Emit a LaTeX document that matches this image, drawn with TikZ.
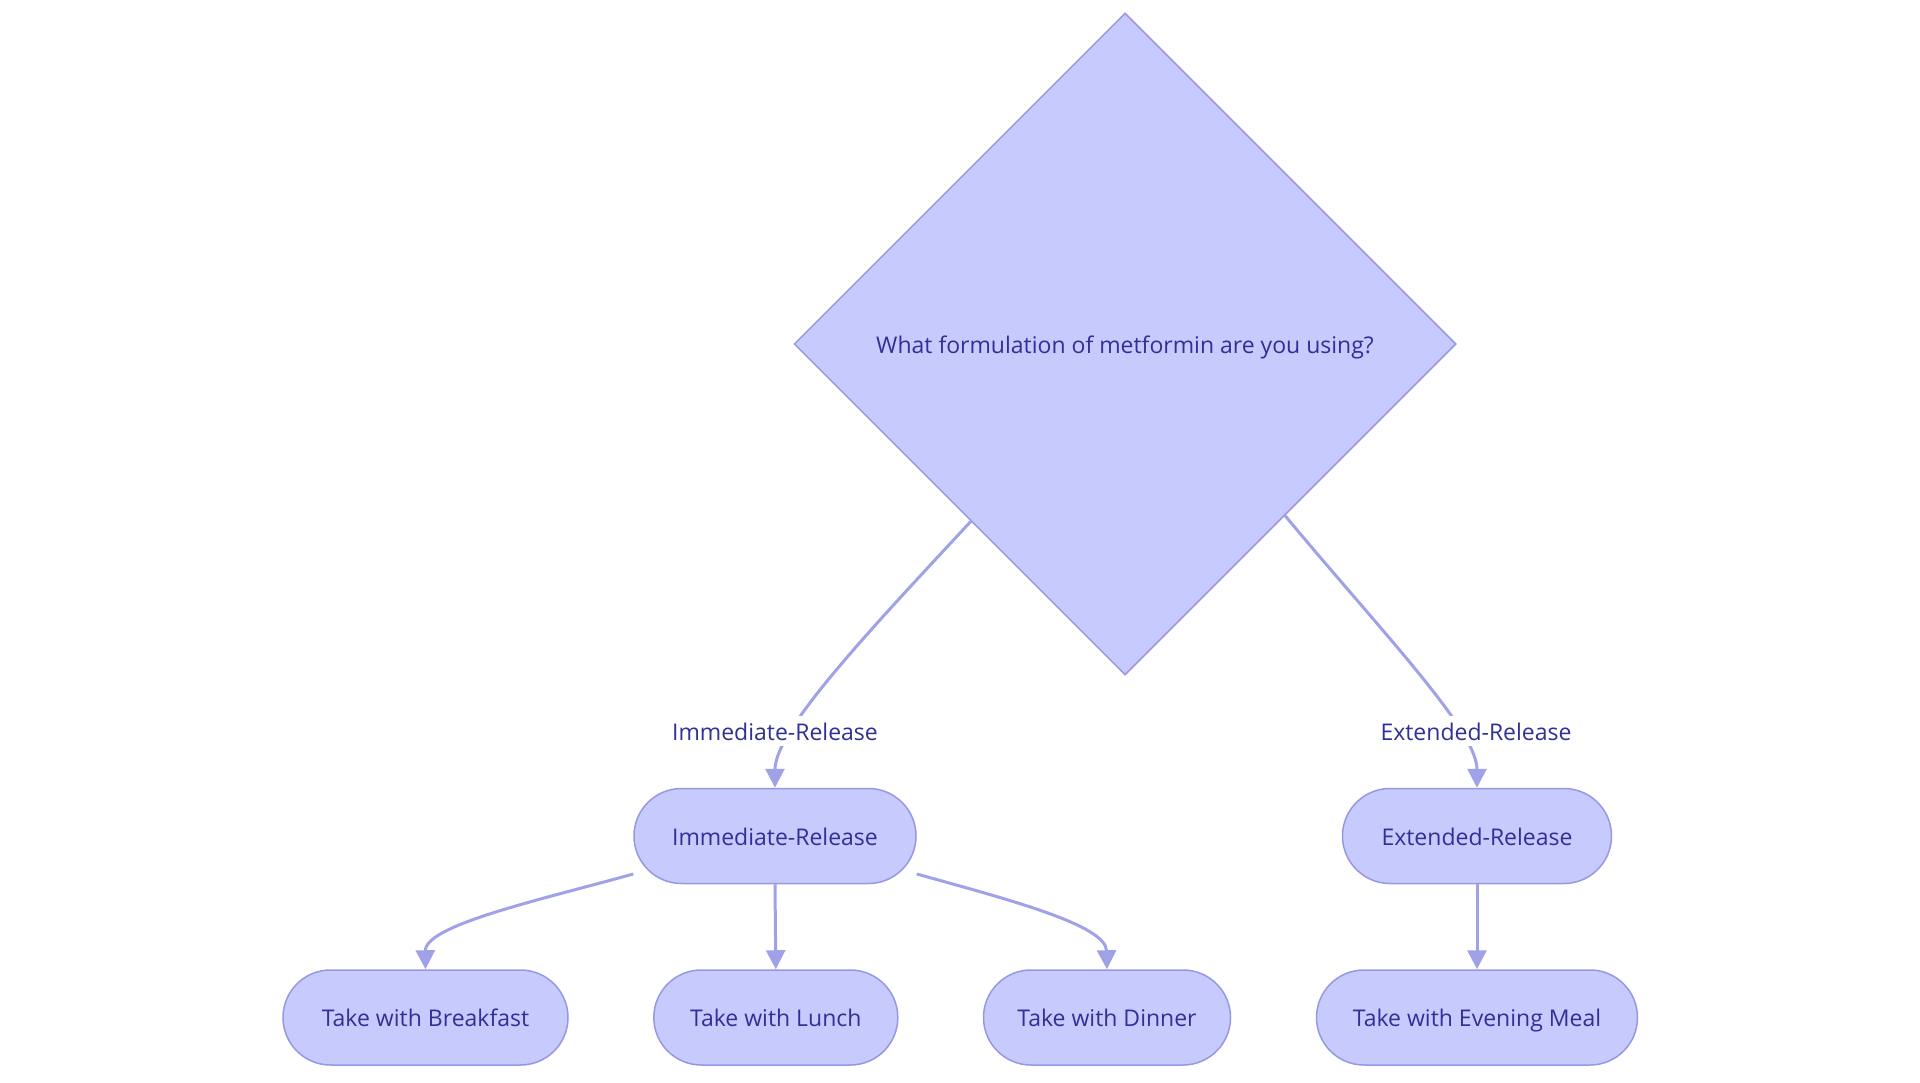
\documentclass[tikz,border=0pt]{standalone}
\usepackage{fontspec}
\setmainfont{Open Sans}
\usetikzlibrary{shapes.geometric,arrows.meta}
\definecolor{nfill}{RGB}{199,202,253}
\definecolor{nstroke}{RGB}{150,152,226}
\definecolor{ntext}{RGB}{48,48,150}
\definecolor{eline}{RGB}{160,162,232}
\tikzset{
  txt/.style={text=ntext, font=\fontsize{23}{27}\selectfont, text height=19pt, text depth=1pt},
  box/.style={txt, draw=nstroke, fill=nfill, line width=1.5pt, rounded corners=47.5pt,
    minimum height=95pt, inner sep=0pt},
  qdiam/.style={txt, diamond, draw=nstroke, fill=nfill, line width=1.5pt, aspect=1,
    minimum width=662pt, minimum height=662pt, inner sep=0pt},
  edge/.style={draw=eline, line width=3pt, -{Triangle[width=19pt,length=19pt]}},
  elabel/.style={txt, fill=white, inner sep=5pt}
}
\begin{document}
\begin{tikzpicture}[x=1pt,y=-1pt]
\useasboundingbox (0,0) rectangle (1920,1083);
\node[qdiam] (q) at (1125,344) {What formulation of metformin are you using?};
\node[box, minimum width=282pt] (imm) at (775,836) {Immediate-Release};
\node[box, minimum width=269pt] (ext) at (1477,836) {Extended-Release};
\node[box, minimum width=285pt] (bf) at (425.5,1017.5) {Take with Breakfast};
\node[box, minimum width=244pt] (lu) at (775.8,1017.5) {Take with Lunch};
\node[box, minimum width=247pt] (di) at (1107,1017.5) {Take with Dinner};
\node[box, minimum width=321pt] (ev) at (1477,1017.5) {Take with Evening Meal};

\draw[edge] (q.-131.6) .. controls (870,630) and (775,730) .. (imm.north);
\draw[edge] (q.-47.9) .. controls (1380,630) and (1477,730) .. (ext.north);
\node[elabel] (l1) at (775,731) {Immediate-Release};
\node[elabel] (l2) at (1476,731) {Extended-Release};

\draw[edge] (imm.195) .. controls (540,900) and (425,925) .. (bf.north);
\draw[edge] (imm.south) -- (lu.north);
\draw[edge] (imm.-15) .. controls (1010,900) and (1106,925) .. (di.north);
\draw[edge] (ext.south) -- (ev.north);
\end{tikzpicture}
\end{document}
